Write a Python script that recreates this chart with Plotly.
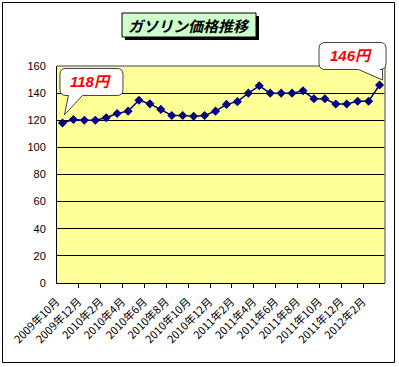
import plotly.graph_objects as go

# ---- data ----
months = [
    "2009年10月", "2009年11月", "2009年12月",
    "2010年1月", "2010年2月", "2010年3月", "2010年4月", "2010年5月", "2010年6月",
    "2010年7月", "2010年8月", "2010年9月", "2010年10月", "2010年11月", "2010年12月",
    "2011年1月", "2011年2月", "2011年3月", "2011年4月", "2011年5月", "2011年6月",
    "2011年7月", "2011年8月", "2011年9月", "2011年10月", "2011年11月", "2011年12月",
    "2012年1月", "2012年2月", "2012年3月",
]
prices = [118, 120.5, 120, 120, 121.8, 125, 126.7, 134.8, 132.1, 128,
          123.5, 123.5, 123, 123.5, 126.7, 131.7, 133.7, 140, 145.4, 140,
          140, 140, 141.7, 135.8, 135.8, 132, 132, 134, 134, 146]
tick_labels = months[::2]
title_text = "ガソリン価格推移"
callout_first = "118円"
callout_last = "146円"

# ---- layout geometry (pixels) ----
W, H = 399, 367
L, R, T, B = 57, 385, 66, 283
Y_MAX = 160
N = len(prices)

def fx(px):
    return (px - L) / (R - L)

def fy(py):
    return (B - py) / (B - T)

def data_to_paper(i, v):
    # same linear mapping as the axes: x range [-0.5, N-0.5], y range [0, Y_MAX]
    return (i + 0.5) / N, v / Y_MAX

idx = list(range(N))
fig = go.Figure()
fig.add_trace(go.Scatter(
    x=idx, y=prices, mode="lines+markers",
    line=dict(color="#000080", width=1.5),
    marker=dict(symbol="diamond", size=7, color="#000080"),
    hoverinfo="skip", showlegend=False,
))

shapes = []
# outer frame
shapes.append(dict(type="rect", xref="paper", yref="paper",
                   x0=fx(2.5), x1=fx(394.5), y0=fy(362.5), y1=fy(2.5),
                   line=dict(color="black", width=1), layer="above"))
# plot area top / right border (gray)
shapes.append(dict(type="line", xref="paper", yref="paper", x0=0, x1=1, y0=1, y1=1,
                   line=dict(color="#808080", width=1.5), layer="above"))
shapes.append(dict(type="line", xref="paper", yref="paper", x0=1, x1=1, y0=0, y1=1,
                   line=dict(color="#808080", width=1.5), layer="above"))
# title shadow + box
shapes.append(dict(type="rect", xref="paper", yref="paper",
                   x0=fx(125), x1=fx(259), y0=fy(40), y1=fy(16),
                   fillcolor="black", line=dict(width=0), layer="above"))
shapes.append(dict(type="rect", xref="paper", yref="paper",
                   x0=fx(122), x1=fx(256), y0=fy(37), y1=fy(13),
                   fillcolor="#CCFFCC", line=dict(color="black", width=1), layer="above"))


def bubble_path(x0, x1, y0, y1, r, tb0, tb1, tipx, tipy):
    # pixel coordinates relative to anchor, y positive upward; y0 = bottom, y1 = top
    p = f"M {x0 + r},{y1} L {x1 - r},{y1} Q {x1},{y1} {x1},{y1 - r} "
    p += f"L {x1},{y0 + r} Q {x1},{y0} {x1 - r},{y0} "
    p += f"L {tb1},{y0} L {tipx},{tipy} L {tb0},{y0} "
    p += f"L {x0 + r},{y0} Q {x0},{y0} {x0},{y0 + r} "
    p += f"L {x0},{y1 - r} Q {x0},{y1} {x0 + r},{y1} Z"
    return p

ax0, ay0 = data_to_paper(idx[0], prices[0])
ax1, ay1 = data_to_paper(idx[-1], prices[-1])
# first-point callout
shapes.append(dict(type="path", xref="paper", yref="paper", xsizemode="pixel", ysizemode="pixel",
                   xanchor=ax0, yanchor=ay0,
                   path=bubble_path(-2.5, 60.5, 27.5, 54.5, 6, 6, 20, 2, 8),
                   fillcolor="white", line=dict(color="#404040", width=1), layer="above"))
# last-point callout
shapes.append(dict(type="path", xref="paper", yref="paper", xsizemode="pixel", ysizemode="pixel",
                   xanchor=ax1, yanchor=ay1,
                   path=bubble_path(-60.5, 6.5, 15.5, 42.5, 6, -21, 3, 3, 5),
                   fillcolor="white", line=dict(color="#404040", width=1), layer="above"))

annotations = [
    dict(text=f"<b><i>{title_text}</i></b>", xref="paper", yref="paper",
         x=fx(189), y=fy(25), xanchor="center", yanchor="middle", showarrow=False,
         font=dict(family="Noto Sans CJK JP", size=15, color="black")),
    dict(text=f"<b><i>{callout_first}</i></b>", xref="paper", yref="paper",
         x=ax0, y=ay0, xshift=28, yshift=41, xanchor="center", yanchor="middle",
         showarrow=False,
         font=dict(family="Liberation Sans, Noto Sans CJK JP", size=15, color="#FF0000")),
    dict(text=f"<b><i>{callout_last}</i></b>", xref="paper", yref="paper",
         x=ax1, y=ay1, xshift=-29, yshift=29, xanchor="center", yanchor="middle",
         showarrow=False,
         font=dict(family="Liberation Sans, Noto Sans CJK JP", size=15, color="#FF0000")),
]

fig.update_layout(
    width=W, height=H,
    margin=dict(l=L, r=W - R, t=T, b=H - B, pad=0, autoexpand=False),
    paper_bgcolor="white", plot_bgcolor="#FFFF99",
    shapes=shapes, annotations=annotations,
    xaxis=dict(
        range=[-0.5, N - 0.5], tickmode="array", automargin=False,
        tickvals=idx[::2], ticktext=tick_labels, tickangle=-45,
        ticks="", showgrid=False, zeroline=False,
        showline=True, linecolor="black", linewidth=1,
        ticklabelshift=-6, ticklabelstandoff=7,
        tickfont=dict(family="Noto Sans CJK JP", size=11, color="black"),
        minor=dict(tickmode="array", tickvals=[i + 1.5 for i in idx[:-2:2]],
                   ticks="outside", ticklen=4, tickcolor="black", tickwidth=1,
                   showgrid=False),
    ),
    yaxis=dict(
        range=[0, Y_MAX], dtick=20, tick0=0, automargin=False,
        showgrid=True, gridcolor="black", gridwidth=1,
        zeroline=False, showline=True, linecolor="black", linewidth=1,
        ticks="", ticklabelstandoff=8,
        tickfont=dict(family="Liberation Sans", size=11, color="black"),
    ),
)

fig.write_html("out.html", config={"displayModeBar": False},
               post_script="document.body.style.margin='0';")
